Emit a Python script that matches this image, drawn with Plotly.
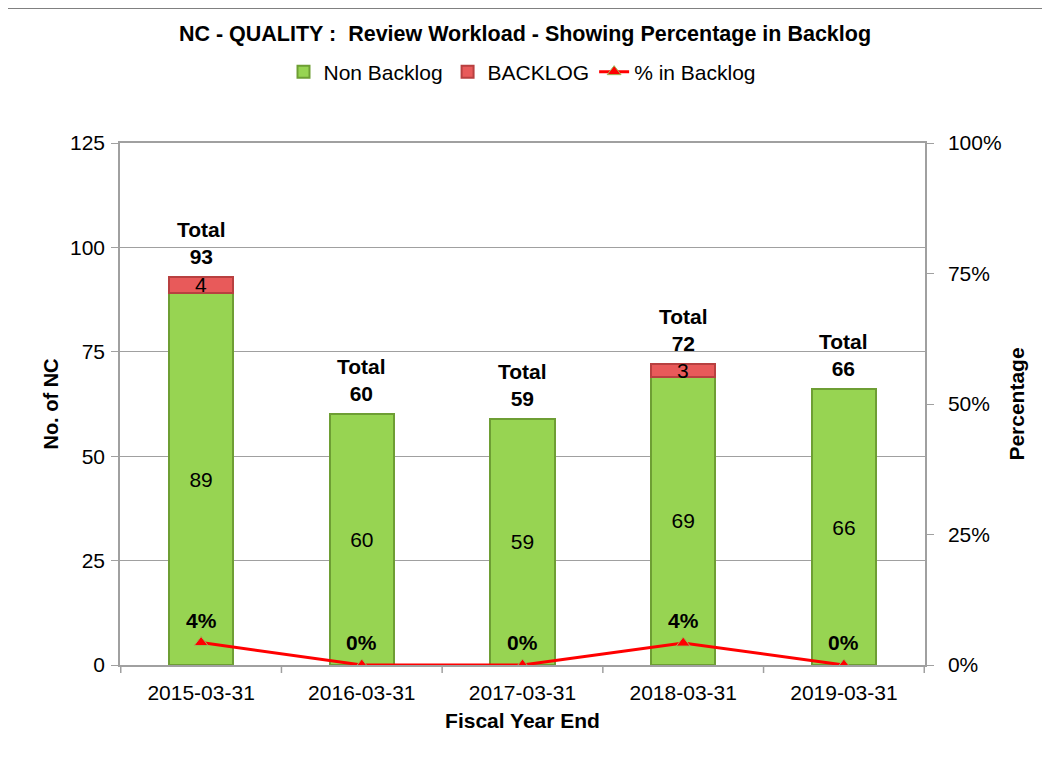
import plotly.graph_objects as go

categories = ["2015-03-31", "2016-03-31", "2017-03-31", "2018-03-31", "2019-03-31"]
non_backlog = [89, 60, 59, 69, 66]
backlog = [4, 0, 0, 3, 0]
totals = [93, 60, 59, 72, 66]
pct_backlog = [0.043, 0.0, 0.0, 0.042, 0.0]
pct_labels = ["4%", "0%", "0%", "4%", "0%"]

FONT = "Liberation Sans, Arial, sans-serif"
FS = 21
OFF = 8  # browser body margin
W, H = 1050 - 2 * OFF, 765 - 2 * OFF
L, R, T, B = 120 - OFF, 1050 - 925 - OFF, 143 - OFF, 765 - 665 - OFF
PH = H - T - B
PW = W - L - R


def py(page_y):
    return (H - B - (page_y - OFF)) / PH


def px(page_x):
    return (page_x - OFF - L) / PW


fig = go.Figure()
fig.add_trace(go.Bar(
    x=categories, y=non_backlog, name="Non Backlog",
    marker=dict(color="#97D452", line=dict(color="#6E9E34", width=2)),
    width=0.4, text=[str(v) for v in non_backlog], textposition="inside",
    insidetextanchor="middle", textfont=dict(size=FS, color="#000000", family=FONT),
    constraintext="none", hoverinfo="skip",
))
fig.add_trace(go.Bar(
    x=categories, y=[b if b > 0 else None for b in backlog], name="BACKLOG",
    marker=dict(color="#E85A5A", line=dict(color="#B84040", width=2)),
    width=0.4, hoverinfo="skip",
))
fig.add_trace(go.Scatter(
    x=categories, y=pct_backlog, name="% in Backlog", yaxis="y2",
    mode="lines+markers", line=dict(color="#FF0000", width=3),
    marker=dict(symbol="triangle-up", size=12, color="#FF0000",
                line=dict(color="#9BBB59", width=1)),
    hoverinfo="skip",
))

annotations = []
for c, t in zip(categories, totals):
    annotations.append(dict(x=c, y=t, xref="x", yref="y", text=f"<b>Total<br>{t}</b>",
                            showarrow=False, yanchor="bottom", yshift=7,
                            font=dict(size=FS, color="#000", family=FONT)))
for c, nb, b in zip(categories, non_backlog, backlog):
    if b > 0:
        annotations.append(dict(x=c, y=nb + b / 2, xref="x", yref="y", text=str(b),
                                showarrow=False, yanchor="middle",
                                font=dict(size=FS, color="#000", family=FONT)))
for c, p, lab in zip(categories, pct_backlog, pct_labels):
    annotations.append(dict(x=c, y=p, xref="x", yref="y2", text=f"<b>{lab}</b>",
                            showarrow=False, yanchor="bottom", yshift=9,
                            font=dict(size=FS, color="#000", family=FONT)))

fig.update_layout(
    width=W, height=H,
    margin=dict(l=L, r=R, t=T, b=B, autoexpand=False),
    paper_bgcolor="white", plot_bgcolor="white",
    font=dict(family=FONT, size=FS, color="#000"),
    barmode="stack", bargap=0.6,
    title=dict(text="<b>NC - QUALITY :  Review Workload - Showing Percentage in Backlog</b>",
               x=0.5, xanchor="center", y=1 - (33 - OFF) / H, yanchor="middle",
               font=dict(size=21.5, family=FONT, color="#000")),
    legend=dict(orientation="h", x=0.5, xanchor="center", y=py(72),
                yanchor="middle", font=dict(size=FS, family=FONT),
                traceorder="normal", bgcolor="rgba(0,0,0,0)"),
    xaxis=dict(
        type="category",
        title=dict(text="<b>Fiscal Year End</b>", font=dict(size=FS), standoff=10),
        showline=True, linecolor="#A0A0A0", linewidth=1.5, mirror=True,
        ticks="", tickfont=dict(size=FS), showgrid=False, ticklabelstandoff=8,
    ),
    yaxis=dict(
        title=dict(text="<b>No. of NC</b>", font=dict(size=20), standoff=6),
        range=[0, 125], dtick=25, showline=True, linecolor="#A0A0A0", linewidth=1.5,
        mirror=False, ticks="outside", ticklen=7, tickcolor="#A0A0A0",
        gridcolor="#A0A0A0", gridwidth=1, tickfont=dict(size=FS), zeroline=False,
        ticklabelstandoff=2,
    ),
    yaxis2=dict(
        title=dict(text="<b>Percentage</b>", font=dict(size=FS), standoff=9),
        overlaying="y", side="right", range=[0, 1], tickvals=[0, 0.25, 0.5, 0.75, 1.0],
        ticktext=["0%", "25%", "50%", "75%", "100%"], showline=True,
        linecolor="#A0A0A0", linewidth=1.5, ticks="outside", ticklen=7,
        tickcolor="#A0A0A0", showgrid=False, tickfont=dict(size=FS), zeroline=False,
        ticklabelstandoff=10,
    ),
    annotations=annotations,
    shapes=[
        dict(type="line", xref="paper", yref="paper",
             x0=px(0), x1=px(1100), y0=py(8), y1=py(8),
             line=dict(color="#808080", width=2)),
        dict(type="line", xref="paper", yref="paper",
             x0=px(7), x1=px(7), y0=py(8), y1=py(800),
             line=dict(color="#808080", width=2)),
    ],
)

# category boundary tick marks on x-axis
for i in range(len(categories) + 1):
    fig.add_shape(type="line", xref="x", yref="paper", x0=i - 0.5, x1=i - 0.5,
                  y0=0, y1=-8 / PH, line=dict(color="#A0A0A0", width=1.5))

fig.write_html("out.html")
